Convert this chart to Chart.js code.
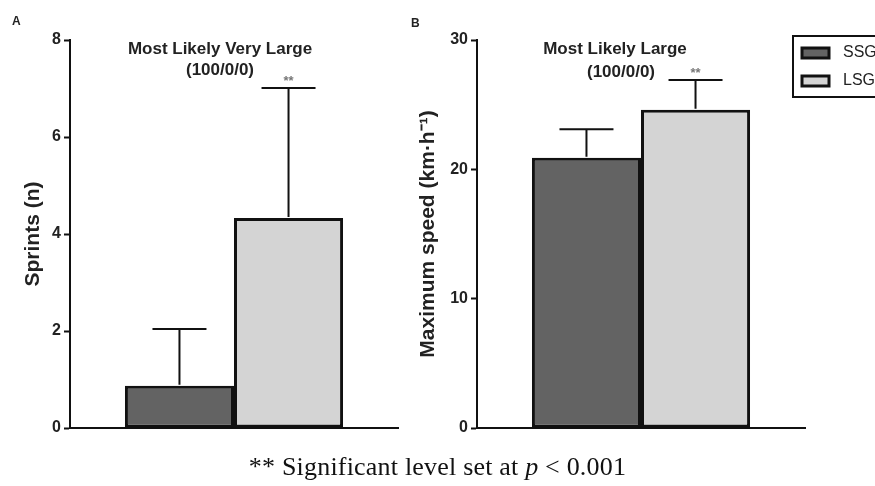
<!DOCTYPE html>
<html>
<head>
<meta charset="utf-8">
<script src="https://cdn.jsdelivr.net/npm/chart.js@4.4.1/dist/chart.umd.min.js"></script>
<style>
html, body { margin: 0; padding: 0; background: #fff; }
body { width: 875px; height: 486px; position: relative; overflow: hidden; }
#wrapA { position: absolute; left: 0; top: 0; width: 410px; height: 486px; }
#wrapB { position: absolute; left: 410px; top: 0; width: 465px; height: 486px; }
#note { position: absolute; left: 0; width: 875px; top: 453px; text-align: center;
        font-family: "Liberation Serif", serif; font-size: 26px; letter-spacing: 0.2px;
        line-height: 28px; color: #111; }
</style>
</head>
<body>
<div id="wrapA"><canvas id="chartA"></canvas></div>
<div id="wrapB"><canvas id="chartB"></canvas></div>
<div id="note">** Significant level set at <i>p</i> &lt; 0.001</div>
<script>
// ======================================================
// Data
// ======================================================

const groups = ["SSG", "LSG"];
const fillColors = ["#636363", "#d4d4d4"];

const sprintMeans = [0.87, 4.33];
const sprintSD = [1.17, 2.68];
const sprintTicks = [0, 2, 4, 6, 8];

const speedMeans = [20.9, 24.6];
const speedSD = [2.2, 2.3];
const speedTicks = [0, 10, 20, 30];

const boldFont = "'Liberation Sans', Arial, sans-serif";

// ======================================================
// Error bars, titles, stars, legend
// ======================================================

const extrasPlugin = {
    id: "extras",
    afterDatasetsDraw(chart, args, opts) {
        const ctx = chart.ctx;
        const y = chart.scales.y;
        ctx.save();

        chart.data.datasets.forEach((ds, i) => {
            const bar = chart.getDatasetMeta(i).data[0];
            const top = y.getPixelForValue(ds.data[0] + opts.sd[i]);
            ctx.strokeStyle = "#111";
            ctx.lineWidth = 2;
            ctx.beginPath();
            ctx.moveTo(bar.x, bar.y - 1);
            ctx.lineTo(bar.x, top);
            ctx.moveTo(bar.x - 27, top);
            ctx.lineTo(bar.x + 27, top);
            ctx.stroke();
            if (i === 1) {
                ctx.fillStyle = "#777";
                ctx.font = "bold 13px " + boldFont;
                ctx.textAlign = "center";
                ctx.textBaseline = "middle";
                ctx.fillText("**", bar.x, top - 7);
            }
        });

        ctx.fillStyle = "#222";
        ctx.font = "bold 17px " + boldFont;
        ctx.textAlign = "center";
        ctx.textBaseline = "middle";
        opts.title.forEach(t => ctx.fillText(t.text, t.x, t.y));

        ctx.font = "bold 12px " + boldFont;
        ctx.textAlign = "left";
        ctx.fillText(opts.panel.text, opts.panel.x, opts.panel.y);

        if (opts.legend) {
            const L = opts.legend;
            ctx.strokeStyle = "#111";
            ctx.lineWidth = 2;
            ctx.strokeRect(L.x, L.y, L.w, L.h);
            ctx.font = "16px " + boldFont;
            chart.data.datasets.forEach((ds, i) => {
                const sy = L.y + 12 + i * 28;
                ctx.fillStyle = ds.backgroundColor;
                ctx.lineWidth = 3;
                ctx.fillRect(L.x + 9, sy, 27, 10);
                ctx.strokeRect(L.x + 9, sy, 27, 10);
                ctx.fillStyle = "#222";
                ctx.textAlign = "left";
                ctx.fillText(ds.label, L.x + 50, sy + 5);
            });
        }
        ctx.restore();
    }
};

function makeDatasets(means) {
    return groups.map((g, i) => ({
        label: g,
        data: [means[i]],
        backgroundColor: fillColors[i],
        borderColor: "#111",
        borderWidth: 3,
        borderSkipped: false,
        barPercentage: 1,
        categoryPercentage: 0.665
    }));
}

function makeChart(canvasId, means, sd, ticks, yTitle, yWidth, titlePad, rightPad, extras) {
    return new Chart(document.getElementById(canvasId), {
        type: "bar",
        data: {
            labels: [""],
            datasets: makeDatasets(means)
        },
        options: {
            responsive: true,
            maintainAspectRatio: false,
            animation: false,
            layout: {
                padding: { top: 40, bottom: 58, left: 0, right: rightPad }
            },
            plugins: {
                legend: { display: false },
                tooltip: { enabled: false },
                extras: Object.assign({ sd: sd }, extras)
            },
            scales: {
                x: {
                    grid: { display: false },
                    ticks: { display: false },
                    border: { display: true, color: "#111", width: 2 },
                    afterFit: s => { s.height = 0; }
                },
                y: {
                    min: ticks[0],
                    max: ticks[ticks.length - 1],
                    afterBuildTicks: s => { s.ticks = ticks.map(v => ({ value: v })); },
                    grid: {
                        display: true,
                        drawOnChartArea: false,
                        drawTicks: true,
                        tickLength: 6,
                        tickWidth: 2,
                        tickColor: "#111"
                    },
                    border: { display: true, color: "#111", width: 2 },
                    ticks: {
                        color: "#222",
                        padding: 3,
                        font: { family: boldFont, size: 16, weight: "bold" }
                    },
                    title: {
                        display: true,
                        text: yTitle,
                        color: "#222",
                        padding: { top: titlePad, bottom: 0 },
                        font: { family: boldFont, size: 21, weight: "bold" }
                    },
                    afterFit: s => { s.width = yWidth; }
                }
            }
        },
        plugins: [extrasPlugin]
    });
}

// ======================================================
// Panel A: sprints
// ======================================================

makeChart("chartA", sprintMeans, sprintSD, sprintTicks, "Sprints (n)", 70, 21, 12, {
    title: [
        { text: "Most Likely Very Large", x: 220, y: 49 },
        { text: "(100/0/0)", x: 220, y: 70 }
    ],
    panel: { text: "A", x: 12, y: 22 }
});

// ======================================================
// Panel B: maximum speed
// ======================================================

makeChart("chartB", speedMeans, speedSD, speedTicks, "Maximum speed (km\u00b7h\u207b\u00b9)", 67, 6, 70, {
    title: [
        { text: "Most Likely Large", x: 205, y: 49 },
        { text: "(100/0/0)", x: 211, y: 72 }
    ],
    panel: { text: "B", x: 1, y: 24 },
    legend: { x: 383, y: 36, w: 100, h: 61 }
});
</script>
</body>
</html>
